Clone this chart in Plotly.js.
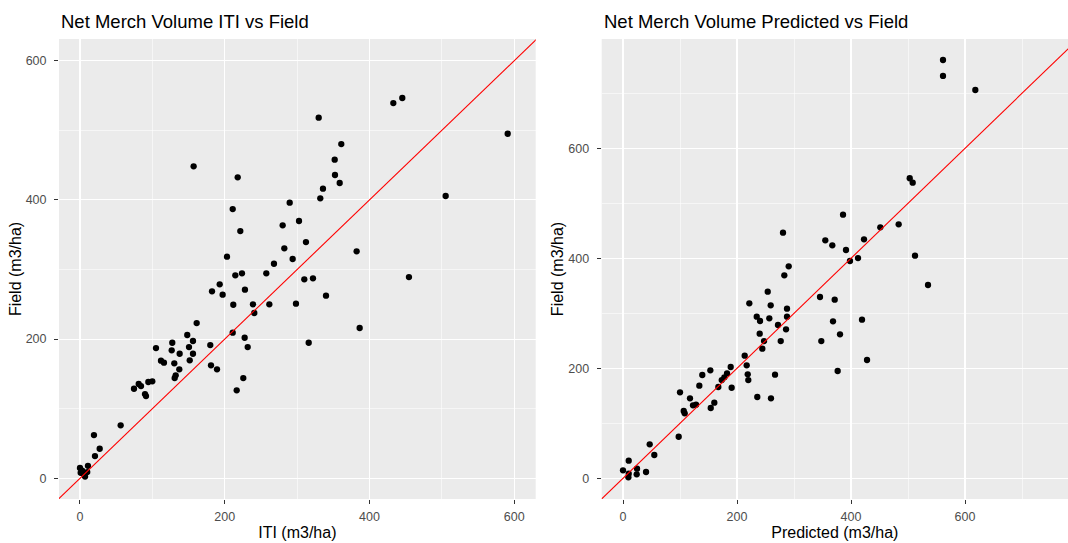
<!DOCTYPE html>
<html><head><meta charset="utf-8">
<script src="https://cdn.plot.ly/plotly-3.0.1.min.js"></script>
<style>html,body{margin:0;padding:0;background:#fff}</style>
</head><body><div id="chart" style="width:1068px;height:543px"></div>
<script>
// Left panel: ITI vs Field (m3/ha)
const itiX = [157, 217.9, 361, 351.9, 352.3, 358.8, 335.7, 332, 289.7, 211, 302.6, 280, 221.5, 312.2, 282.3, 203.1, 293.8, 268, 382.2, 214.6,
  223.8, 257.4, 193, 182.4, 197.1, 227.9, 309.9, 321.9, 211.8, 239, 261.6, 298.4, 240.8, 339.9, 386.4, 161.2, 148.2, 156.1, 127.5, 105,
  126.7, 150.6, 137.7, 156.1, 180, 211, 227.5, 231.7, 111.9, 116, 130.3, 151.6, 137.2, 132.2, 130.8, 181, 189.3, 225.6, 216.5, 316,
  99.9, 94.4, 74.6, 81.1, 84.3, 89.8, 91.2, 56.2, 19.3, 27.2, 20.7, 0, 1, 4.6, 7, 10, 11, 3,
  432.9, 445.3, 329.8, 590.9, 505.2, 454.5];
const itiField = [448.3, 432.5, 480.3, 457.8, 435.8, 424.3, 416.1, 402.3, 396, 386.9, 369.7, 363.5, 355.3, 339.5, 330.5, 318.4, 315.1, 308.3, 326.1, 291.6,
  294.5, 294.5, 278.7, 268.7, 263.8, 271, 285.9, 287.4, 249.4, 250, 250, 250.9, 237.5, 262.4, 216, 223.1, 205.9, 197.3, 194.8, 187.2,
  183.9, 188.6, 179, 179, 191.5, 209.2, 202, 188.6, 169, 166.1, 165.2, 169.5, 156.6, 148, 144.1, 162.4, 156.6, 144.1, 126.4, 194.8,
  139.4, 138.4, 128.7, 135.5, 132.6, 121.1, 118.2, 76.1, 62.2, 42.5, 32, 15, 8, 7, 2.5, 9, 18, 11,
  539.2, 546.4, 518.1, 495.1, 405.6, 289.2];

// Right panel: Predicted vs Field (m3/ha)
const predX = [561.4, 561.4, 618.1, 503, 508.2, 386, 451.4, 483.6, 422.8, 391.2, 398.2, 412.3, 512.3, 535.1, 419.3, 380.7, 428.1, 354.9, 367.2, 280.7,
  290.7, 283, 253.9, 221.6, 259.1, 287.7, 234.6, 240.4, 256.7, 287.7, 271.9, 286, 345.6, 371.4, 368.4, 347.9, 376.6, 239.8, 247.4, 276.7,
  244.4, 213.5, 217, 218.8, 219.8, 266.7, 188.9, 182.5, 177.8, 173.2, 153.2, 139.1, 167.2, 190.6, 133.9, 100, 117.5, 235.6, 259.6, 128.1,
  122.8, 153.9, 160.2, 106.5, 108.2, 97.7, 46.8, 54.9, 10, 0, 10, 9.4, 24.6, 24, 40.4];
const predField = [760.5, 731.5, 706, 545.5, 537.5, 479.3, 456.4, 461.8, 434.5, 415.1, 395.1, 400.5, 404.7, 351.5, 288.4, 261.8, 215.1, 432.7, 423.6, 446.5,
  385.5, 369.1, 339.3, 318.2, 314.5, 308.4, 293.8, 286, 290.9, 293.8, 278.7, 270.9, 329.6, 324.7, 285.5, 249.6, 195.1, 263, 249.6, 249.6,
  235.7, 223, 205.5, 189.1, 178.7, 188.4, 202.4, 190.9, 183.6, 178.7, 196.4, 187.8, 166, 164.7, 168.4, 156.4, 145.5, 147.8, 145.5, 133.8,
  132.7, 127.8, 137.5, 122.4, 118.2, 75.6, 61.8, 42.4, 32, 14.5, 8.4, 1.8, 17.5, 7.3, 11.5];

const tickVals = [0, 200, 400, 600];
const tickText = ['0', '200', '400', '600'];
const minorLeft = [100, 300, 500];
const minorRight = [100, 300, 500, 700];
const refLine = [-100, 1000];   // y = x reference line

const FONT = 'Liberation Sans, Arial, sans-serif';

function axis(domain, range, minorVals, anchor, titleText, labelGap, titleGap) {
  return {
    domain: domain, range: range, anchor: anchor,
    tickmode: 'array', tickvals: tickVals, ticktext: tickText,
    ticks: 'outside', ticklen: 4, tickwidth: 1, tickcolor: '#333333',
    ticklabelstandoff: labelGap,
    tickfont: {family: FONT, size: 12.5, color: '#4D4D4D'},
    showgrid: true, gridcolor: '#FFFFFF', gridwidth: 1.1,
    minor: {tickmode: 'array', tickvals: minorVals, showgrid: true, gridcolor: '#FFFFFF', gridwidth: 0.55, ticks: ''},
    zeroline: false, showline: false,
    title: {text: titleText, font: {family: FONT, size: 16, color: '#000000'}, standoff: titleGap}
  };
}

const W = 1068, ML = 59, MR = 0, MT = 39, MB = 44;
const PW = W - ML - MR;
const lx1 = (535.7 - ML) / PW;
const rx0 = (601.7 - ML) / PW;

const pointStyle = {color: '#000000', size: 6.3, line: {width: 0}};
const lineStyle = {color: '#FF0000', width: 1.1};

const data = [
  {x: itiX, y: itiField, type: 'scatter', mode: 'markers', marker: pointStyle, xaxis: 'x', yaxis: 'y', hoverinfo: 'x+y'},
  {x: refLine, y: refLine, type: 'scatter', mode: 'lines', line: lineStyle, xaxis: 'x', yaxis: 'y', hoverinfo: 'skip'},
  {x: predX, y: predField, type: 'scatter', mode: 'markers', marker: pointStyle, xaxis: 'x2', yaxis: 'y2', hoverinfo: 'x+y'},
  {x: refLine, y: refLine, type: 'scatter', mode: 'lines', line: lineStyle, xaxis: 'x2', yaxis: 'y2', hoverinfo: 'skip'}
];

const layout = {
  width: W, height: 543,
  margin: {l: ML, r: MR, t: MT, b: MB, pad: 0},
  paper_bgcolor: '#FFFFFF', plot_bgcolor: '#EBEBEB',
  showlegend: false,
  font: {family: FONT},
  xaxis: axis([0, lx1], [-29.0, 629.6], minorLeft, 'y', 'ITI (m3/ha)', 2, 3),
  yaxis: axis([0, 1], [-29.7, 631.2], minorLeft, 'x', 'Field (m3/ha)', 5, 0),
  xaxis2: axis([rx0, 1], [-37.4, 780.7], minorRight, 'y2', 'Predicted (m3/ha)', 2, 3),
  yaxis2: axis([0, 1], [-37.6, 798.7], minorRight, 'x2', 'Field (m3/ha)', 5, 0),
  annotations: [
    {text: 'Net Merch Volume ITI vs Field', xref: 'x domain', yref: 'paper', x: 0, y: 1 + 18 / 460,
     xanchor: 'left', yanchor: 'middle', showarrow: false, font: {family: FONT, size: 18.5, color: '#000000'}},
    {text: 'Net Merch Volume Predicted vs Field', xref: 'x2 domain', yref: 'paper', x: 0, y: 1 + 18 / 460,
     xanchor: 'left', yanchor: 'middle', showarrow: false, font: {family: FONT, size: 18.5, color: '#000000'}}
  ]
};

Plotly.newPlot('chart', data, layout, {staticPlot: true, displayModeBar: false});
</script>
</body></html>
